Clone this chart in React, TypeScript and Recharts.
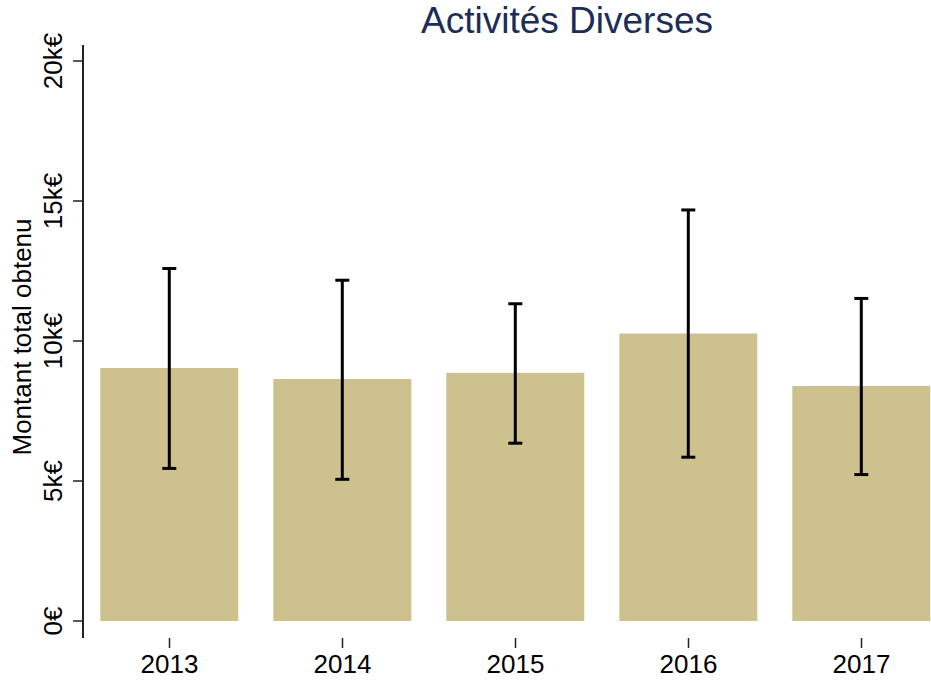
import { BarChart, Bar, XAxis, YAxis, ErrorBar } from "recharts";

const years = ["2013", "2014", "2015", "2016", "2017"];
const amounts = [9040, 8640, 8870, 10270, 8390];
const ciLow = [5450, 5060, 6350, 5850, 5230];
const ciHigh = [12590, 12170, 11330, 14680, 11520];
const yTicks = [0, 5000, 10000, 15000, 20000];

const FONT = '"Liberation Sans", Arial, Helvetica, sans-serif';

const data = years.map((year, i) => ({
  year,
  amount: amounts[i],
  err: [amounts[i] - ciLow[i], ciHigh[i] - amounts[i]],
}));

const fmtEuro = (v: number) => (v === 0 ? "0€" : `${v / 1000}k€`);

function YTick(props: any) {
  const { y, payload } = props;
  const x = 62;
  return (
    <text
      x={x}
      y={y}
      transform={`rotate(-90, ${x}, ${y})`}
      textAnchor="middle"
      fontSize={26}
      fontFamily={FONT}
      fill="#000"
    >
      {fmtEuro(payload.value)}
    </text>
  );
}

function XTick(props: any) {
  const { x, y, payload } = props;
  return (
    <text x={x} y={y + 23} textAnchor="middle" fontSize={26} fontFamily={FONT} fill="#000">
      {payload.value}
    </text>
  );
}

export default function App() {
  return (
    <div
      style={{
        position: "fixed",
        left: 0,
        top: 0,
        width: 931,
        height: 682,
        overflow: "hidden",
        background: "#fff",
      }}
    >
      <BarChart
        width={948}
        height={682}
        data={data}
        margin={{ top: 45, right: 0, bottom: 0, left: 0 }}
        barCategoryGap="10%"
      >
        <YAxis
          width={83}
          domain={[-607, 20571]}
          ticks={yTicks}
          allowDataOverflow
          tickSize={10}
          tick={<YTick />}
          axisLine={{ stroke: "#222", strokeWidth: 2 }}
          tickLine={{ stroke: "#222", strokeWidth: 1.5 }}
        />
        <XAxis
          dataKey="year"
          height={44}
          axisLine={false}
          tickSize={10}
          tick={<XTick />}
          tickLine={{ stroke: "#222", strokeWidth: 1.5 }}
        />
        <Bar dataKey="amount" fill="#cdc28e" isAnimationActive={false}>
          <ErrorBar dataKey="err" width={7} strokeWidth={3} stroke="#000" direction="y" />
        </Bar>
      </BarChart>
      <svg
        width={931}
        height={682}
        style={{ position: "absolute", left: 0, top: 0, pointerEvents: "none" }}
      >
        <text x={567} y={33} textAnchor="middle" fontSize={37} fontFamily={FONT} fill="#1c2d5a">
          Activités Diverses
        </text>
        <text
          x={31}
          y={337}
          transform="rotate(-90, 31, 337)"
          textAnchor="middle"
          fontSize={26}
          fontFamily={FONT}
          fill="#000"
        >
          Montant total obtenu
        </text>
      </svg>
    </div>
  );
}
